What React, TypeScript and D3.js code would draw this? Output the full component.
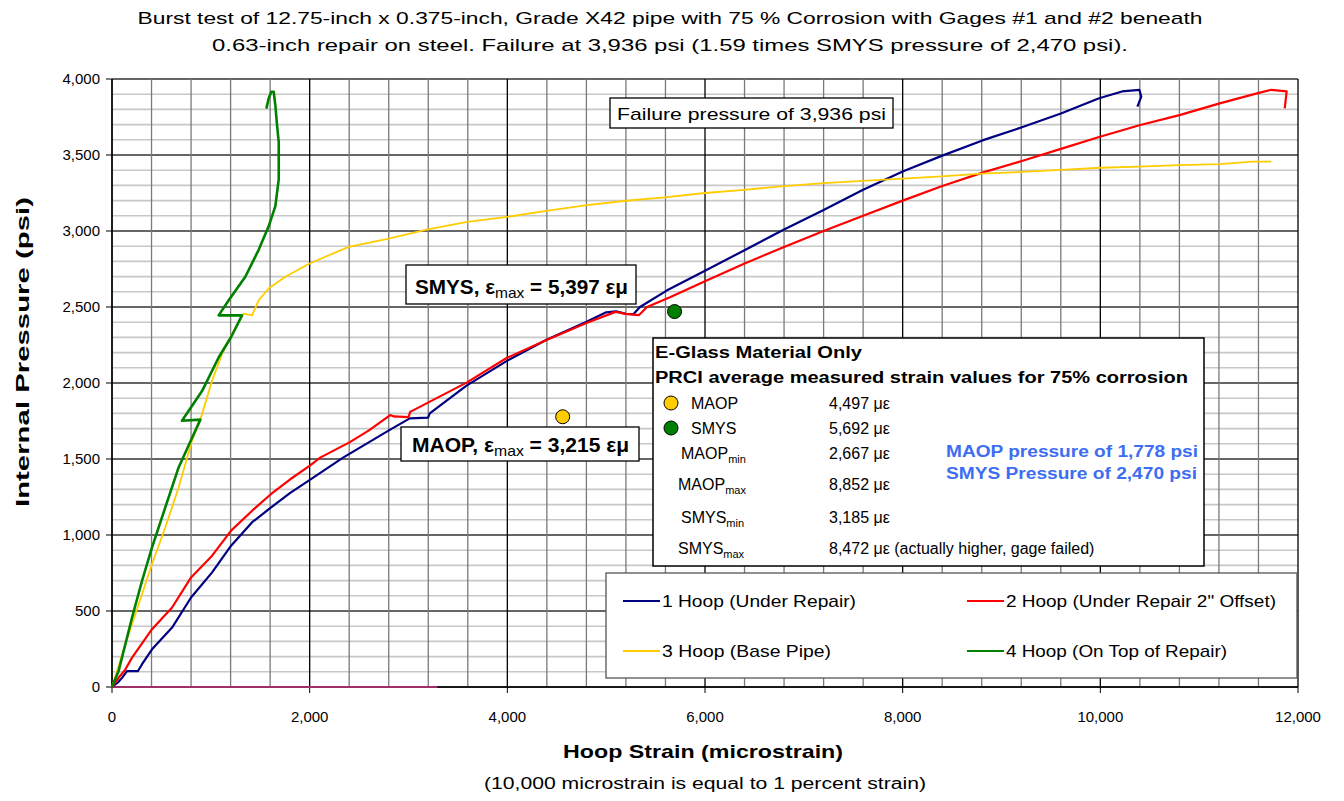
import React from "react";
import * as d3 from "d3";

const W = 1344;
const H = 801;
const FONT = "Arial, 'Liberation Sans', sans-serif";

const xTicks = [0, 2000, 4000, 6000, 8000, 10000, 12000];
const yTicks = [0, 500, 1000, 1500, 2000, 2500, 3000, 3500, 4000];

// [hoop strain (microstrain), internal pressure (psi)]
const hoop1: [number, number][] = [
  [0, 0], [60, 30], [101, 60], [152, 105], [263, 105], [304, 150], [405, 248],
  [608, 391], [800, 589], [1013, 754], [1205, 930], [1418, 1084], [1610, 1182],
  [1800, 1275], [2002, 1363], [2338, 1509], [2802, 1688], [3013, 1767],
  [3198, 1772], [3215, 1800], [3587, 1983], [3992, 2144], [4397, 2284],
  [4802, 2403], [5000, 2465], [5100, 2472], [5200, 2455], [5275, 2453],
  [5342, 2500], [5612, 2608], [6000, 2738], [6395, 2872], [6800, 3010],
  [7200, 3138], [7600, 3271], [8000, 3392], [8401, 3496], [8807, 3596],
  [9214, 3684], [9601, 3773], [9988, 3873], [10220, 3918], [10395, 3929],
  [10414, 3884], [10375, 3818],
];

const hoop2: [number, number][] = [
  [0, 0], [68, 62], [130, 110], [203, 193], [405, 380], [608, 523], [800, 721],
  [1013, 864], [1205, 1029], [1418, 1160], [1610, 1270], [1800, 1365],
  [2002, 1457], [2106, 1509], [2407, 1611], [2600, 1688], [2815, 1789],
  [2850, 1780], [3000, 1775], [3017, 1810], [3592, 2004], [3997, 2166],
  [4402, 2284], [4807, 2397], [5094, 2468], [5200, 2455], [5330, 2446],
  [5414, 2500], [5651, 2566], [6000, 2670], [6395, 2785], [6800, 2895],
  [7200, 3000], [7600, 3100], [8000, 3200], [8401, 3296], [8807, 3384],
  [9214, 3462], [9601, 3540], [9988, 3618], [10395, 3696], [10801, 3762],
  [11208, 3840], [11595, 3907], [11730, 3929], [11885, 3918], [11866, 3807],
];

const hoop3: [number, number][] = [
  [0, 0], [135, 281], [270, 545], [405, 809], [540, 1051], [675, 1314],
  [810, 1622], [894, 1759], [1012, 2014], [1113, 2190], [1197, 2301],
  [1332, 2456], [1380, 2450], [1417, 2445], [1484, 2544], [1585, 2622],
  [1754, 2699], [2000, 2786], [2395, 2896], [2800, 2950], [3195, 3010],
  [3595, 3060], [4000, 3093], [4395, 3133], [4805, 3170], [5200, 3199],
  [5595, 3221], [6000, 3250], [6395, 3271], [6800, 3295], [7200, 3315],
  [7600, 3330], [8000, 3345], [8395, 3360], [8795, 3377], [9214, 3389],
  [9601, 3402], [10000, 3416], [10395, 3424], [10801, 3433], [11208, 3440],
  [11537, 3456], [11730, 3456],
];

const hoop4: [number, number][] = [
  [0, 0], [67, 105], [203, 457], [304, 699], [405, 919], [540, 1183],
  [675, 1446], [844, 1688], [894, 1759], [708, 1752], [911, 1947],
  [1079, 2168], [1204, 2301], [1315, 2445], [1079, 2445], [1181, 2544],
  [1349, 2699], [1484, 2876], [1585, 3031], [1653, 3164], [1687, 3341],
  [1687, 3584], [1670, 3695], [1653, 3827], [1636, 3916], [1612, 3916],
  [1585, 3872], [1562, 3805],
];

const hoop5: [number, number][] = [[0, 0], [3290, 0]];

const seriesLabels = [
  "1 Hoop (Under Repair)",
  '2 Hoop (Under Repair 2" Offset)',
  "3 Hoop (Base Pipe)",
  "4 Hoop (On Top of Repair)",
];
const seriesColors = ["#000080", "#ff0000", "#ffcc00", "#008000"];
const legendWidths = [194, 270, 169, 221];

const maopPoint = { strain: 4560, psi: 1778 };
const smysPoint = { strain: 5692, psi: 2470 };

const infoRows = [
  { label: "MAOP", sub: "", value: "4,497 \u03bc\u03b5", dot: "#ffcc00" },
  { label: "SMYS", sub: "", value: "5,692 \u03bc\u03b5", dot: "#008000" },
  { label: "MAOP", sub: "min", value: "2,667 \u03bc\u03b5", dot: "" },
  { label: "MAOP", sub: "max", value: "8,852 \u03bc\u03b5", dot: "" },
  { label: "SMYS", sub: "min", value: "3,185 \u03bc\u03b5", dot: "" },
  { label: "SMYS", sub: "max", value: "8,472 \u03bc\u03b5 (actually higher, gage failed)", dot: "" },
];

const margin = { left: 112, right: W - 1298, top: 79, bottom: H - 687 };

function T(props: any) {
  const { x, y, size, w, bold, anchor, fill, children, transform } = props;
  return (
    <text
      x={x}
      y={y}
      fontSize={size}
      fontWeight={bold ? "bold" : "normal"}
      textAnchor={anchor || "start"}
      fill={fill || "#000"}
      textLength={w}
      lengthAdjust={w ? "spacingAndGlyphs" : undefined}
      transform={transform}
    >
      {children}
    </text>
  );
}

export default function App() {
  const x = d3.scaleLinear().domain([0, 12000]).range([margin.left, W - margin.right]);
  const y = d3.scaleLinear().domain([0, 4000]).range([H - margin.bottom, margin.top]);

  const line = d3
    .line<[number, number]>()
    .x((d) => x(d[0]))
    .y((d) => y(d[1]));

  const series = [hoop1, hoop2, hoop3, hoop4];
  const vGrid = d3.range(0, 12001, 400);
  const hGrid = d3.range(0, 4001, 100);

  const rowY = [409, 434, 459, 490, 523, 554];

  return (
    <svg
      width={W}
      height={H}
      style={{ position: "absolute", left: 0, top: 0, background: "#fff" }}
      fontFamily={FONT}
    >
      <rect width={W} height={H} fill="#fff" />

      {/* grid */}
      {hGrid.map((v) => (
        <line
          key={"h" + v}
          x1={x(0)}
          x2={x(12000)}
          y1={y(v)}
          y2={y(v)}
          stroke={v % 500 === 0 ? "#333" : "#c8c8c8"}
          strokeWidth={v % 500 === 0 ? 1.3 : 1.6}
        />
      ))}
      {vGrid.map((v) => (
        <line
          key={"v" + v}
          x1={x(v)}
          x2={x(v)}
          y1={y(0)}
          y2={y(4000)}
          stroke={v % 2000 === 0 ? "#000" : "#7a7a7a"}
          strokeWidth={1.3}
        />
      ))}

      {/* axes */}
      <line x1={x(0)} x2={x(0)} y1={y(0)} y2={y(4000)} stroke="#000" strokeWidth={1.3} />
      <line x1={x(0)} x2={x(12000)} y1={y(0)} y2={y(0)} stroke="#000" strokeWidth={1.3} />
      {yTicks.map((t) => (
        <g key={"yt" + t}>
          <line x1={x(0) - 6} x2={x(0)} y1={y(t)} y2={y(t)} stroke="#000" />
          <T x={x(0) - 12} y={y(t) + 5} size={15} anchor="end">
            {d3.format(",")(t)}
          </T>
        </g>
      ))}
      {xTicks.map((t) => (
        <g key={"xt" + t}>
          <line x1={x(t)} x2={x(t)} y1={y(0)} y2={y(0) + 6} stroke="#000" />
          <T x={x(t)} y={722} size={15} anchor="middle">
            {d3.format(",")(t)}
          </T>
        </g>
      ))}

      {/* series */}
      <path d={line(hoop5) || ""} fill="none" stroke="#a0306a" strokeWidth={2} />
      {series.map((s, i) => (
        <path
          key={"s" + i}
          d={line(s) || ""}
          fill="none"
          stroke={seriesColors[i]}
          strokeWidth={i === 3 ? 2.6 : i === 2 ? 1.8 : 2.2}
          strokeLinejoin="round"
        />
      ))}

      {/* markers */}
      <circle cx={x(maopPoint.strain)} cy={y(maopPoint.psi)} r={7} fill="#ffcc00" stroke="#000" strokeWidth={1} />
      <circle cx={x(smysPoint.strain)} cy={y(smysPoint.psi)} r={7} fill="#008000" stroke="#000" strokeWidth={1} />

      {/* annotations */}
      <rect x={610} y={98} width={283} height={30} fill="#fff" stroke="#000" strokeWidth={1.3} />
      <T x={617} y={120} size={17} w={269}>Failure pressure of 3,936 psi</T>

      <rect x={406} y={265} width={230} height={39} fill="#fff" stroke="#000" strokeWidth={1.3} />
      <T x={415} y={294} size={20} bold w={213}>
        SMYS, {"\u03b5"}
        <tspan fontSize={15} fontWeight="normal" dy={4}>max</tspan>
        <tspan dy={-4}> = 5,397 {"\u03b5\u03bc"}</tspan>
      </T>

      <rect x={401} y={427} width={238} height={34} fill="#fff" stroke="#000" strokeWidth={1.3} />
      <T x={412} y={452} size={20} bold w={217}>
        MAOP, {"\u03b5"}
        <tspan fontSize={15} fontWeight="normal" dy={4}>max</tspan>
        <tspan dy={-4}> = 3,215 {"\u03b5\u03bc"}</tspan>
      </T>

      {/* info box */}
      <rect x={653} y={338} width={551} height={228} fill="#fff" stroke="#000" strokeWidth={1.5} />
      <T x={655} y={358} size={16} bold w={207}>E-Glass Material Only</T>
      <T x={655} y={383} size={16} bold w={533}>PRCI average measured strain values for 75% corrosion</T>
      {infoRows.map((r, i) => (
        <g key={"ir" + i}>
          {r.dot && <circle cx={671} cy={rowY[i] - 6} r={7} fill={r.dot} stroke="#000" strokeWidth={1} />}
          <T x={r.dot ? 691 : i === 3 || i === 5 ? 678 : 681} y={rowY[i]} size={16}>
            {r.label}
            {r.sub && (
              <tspan fontSize={11} dy={4}>
                {r.sub}
              </tspan>
            )}
          </T>
          <T x={829} y={rowY[i]} size={16}>
            {r.value}
          </T>
        </g>
      ))}
      <T x={946} y={457} size={16} bold fill="#3d6df2" w={252}>MAOP pressure of 1,778 psi</T>
      <T x={946} y={479} size={16} bold fill="#3d6df2" w={251}>SMYS Pressure of 2,470 psi</T>

      {/* legend */}
      <rect x={606} y={573} width={691} height={105} fill="#fff" stroke="#555" strokeWidth={1.3} />
      {seriesLabels.map((lab, i) => {
        const col = i % 2;
        const row = Math.floor(i / 2);
        const lx = col === 0 ? 623 : 967;
        const ly = row === 0 ? 601 : 651;
        return (
          <g key={"lg" + i}>
            <line x1={lx} x2={lx + 37} y1={ly} y2={ly} stroke={seriesColors[i]} strokeWidth={2} />
            <T x={lx + 39} y={ly + 6} size={17} w={legendWidths[i]}>
              {lab}
            </T>
          </g>
        );
      })}

      {/* titles */}
      <T x={670} y={24} size={17} anchor="middle" w={1065}>
        Burst test of 12.75-inch x 0.375-inch, Grade X42 pipe with 75 % Corrosion with Gages #1 and #2 beneath
      </T>
      <T x={670} y={51} size={17} anchor="middle" w={916}>
        0.63-inch repair on steel. Failure at 3,936 psi (1.59 times SMYS pressure of 2,470 psi).
      </T>
      <T x={703} y={758} size={19} bold anchor="middle" w={280}>
        Hoop Strain (microstrain)
      </T>
      <T x={705} y={789} size={16} anchor="middle" w={442}>
        (10,000 microstrain is equal to 1 percent strain)
      </T>
      <T x={0} y={0} size={19} bold anchor="middle" w={310} transform="translate(29,352) rotate(-90)">
        Internal Pressure (psi)
      </T>
    </svg>
  );
}
